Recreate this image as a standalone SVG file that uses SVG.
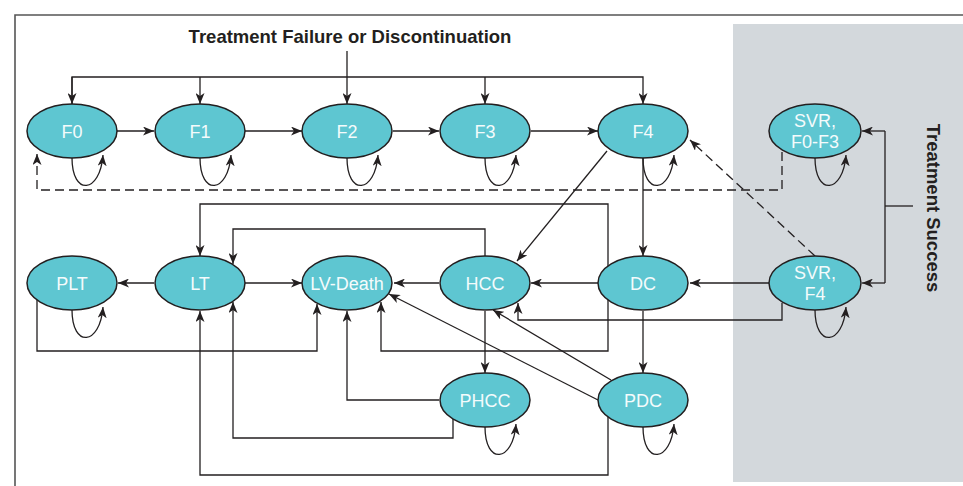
<svg xmlns="http://www.w3.org/2000/svg" width="963" height="486" viewBox="0 0 963 486">
<defs>
<marker id="arr" markerWidth="11" markerHeight="9" refX="11" refY="4.5" orient="auto" markerUnits="userSpaceOnUse">
<path d="M0,0 L11,4.5 L0,9 L3,4.5 z" fill="#231f20"/>
</marker>
<style>
.node ellipse{fill:#5ec6d1;stroke:#231f20;stroke-width:1.5}
.node text{fill:#f4fbfc;font-family:"Liberation Sans",Arial,sans-serif;font-size:18px;text-anchor:middle}
.c path{fill:none;stroke:#231f20;stroke-width:1.3}
.c .a{marker-end:url(#arr)}
.c .d{stroke-dasharray:9,5}
.lbl{font-family:"Liberation Sans",Arial,sans-serif;font-size:18.5px;font-weight:bold;fill:#231f20;text-anchor:middle}
</style>
</defs>
<rect width="963" height="486" fill="#ffffff"/>
<rect x="733" y="24" width="230" height="458" fill="#d3d8dc"/>
<path d="M15,486 V15 H963" fill="none" stroke="#555555" stroke-width="1.6"/>
<text class="lbl" x="350" y="43">Treatment Failure or Discontinuation</text>
<text class="lbl" transform="translate(927,208) rotate(90)" x="0" y="0">Treatment Success</text>

<g class="c" id="connectors">
<path d="M347,51 V104" class="a"/>
<path d="M72,104 V77 H643 V104" class="a"/>
<path d="M72,77 V104" class="a"/>
<path d="M200,77 V104" class="a"/>
<path d="M485,77 V104" class="a"/>
<path d="M117,131 H154" class="a"/>
<path d="M245,131 H302" class="a"/>
<path d="M393,131 H439" class="a"/>
<path d="M531,131 H598" class="a"/>
<path d="M782,152 V190 H37 V154" class="a d"/>
<path d="M815,256 L690,140" class="a d"/>
<path d="M607,151 L517,261" class="a"/>
<path d="M643,158 V256" class="a"/>
<path d="M885,131 V283"/>
<path d="M885,206 H913"/>
<path d="M885,131 H862" class="a"/>
<path d="M885,283 H862" class="a"/>
<path d="M769,283 H690" class="a"/>
<path d="M782,303 V320 H518 V303" class="a"/>
<path d="M598,283 H531" class="a"/>
<path d="M439,283 H394" class="a"/>
<path d="M245,283 H302" class="a"/>
<path d="M154,283 H118" class="a"/>
<path d="M485,256 V229 H233 V264" class="a"/>
<path d="M608,266 V204 H200 V256" class="a"/>
<path d="M608,300 V351 H381 V302" class="a"/>
<path d="M608,417 V475 H200 V311" class="a"/>
<path d="M453,419 V438 H233 V302" class="a"/>
<path d="M439,400 H347 V311" class="a"/>
<path d="M37,300 V351 H317 V304" class="a"/>
<path d="M485,311 V373" class="a"/>
<path d="M643,311 V373" class="a"/>
<path d="M611,380 L493,310" class="a"/>
<path d="M598,400 L389,294" class="a"/>
<path d="M72,158 c0,38 28,36 31,-3" class="a"/>
<path d="M200,158 c0,38 28,36 31,-3" class="a"/>
<path d="M347,158 c0,38 28,36 31,-3" class="a"/>
<path d="M485,158 c0,38 28,36 31,-3" class="a"/>
<path d="M643,158 c0,38 28,36 31,-3" class="a"/>
<path d="M815,158 c0,38 28,36 31,-3" class="a"/>
<path d="M815,310 c0,38 28,36 31,-3" class="a"/>
<path d="M72,310 c0,38 28,36 31,-3" class="a"/>
<path d="M485,427 c0,38 28,36 31,-3" class="a"/>
<path d="M643,427 c0,38 28,36 31,-3" class="a"/>
</g>

<g class="node" id="F0"><ellipse cx="72" cy="131" rx="45" ry="27"/><text x="72" y="137.5">F0</text></g>
<g class="node" id="F1"><ellipse cx="200" cy="131" rx="45" ry="27"/><text x="200" y="137.5">F1</text></g>
<g class="node" id="F2"><ellipse cx="347" cy="131" rx="45" ry="27"/><text x="347" y="137.5">F2</text></g>
<g class="node" id="F3"><ellipse cx="485" cy="131" rx="45" ry="27"/><text x="485" y="137.5">F3</text></g>
<g class="node" id="F4"><ellipse cx="643" cy="131" rx="45" ry="27"/><text x="643" y="137.5">F4</text></g>
<g class="node" id="SVR-F0-F3"><ellipse cx="815" cy="131" rx="46" ry="27"/><text x="815" y="127">SVR,</text><text x="815" y="148">F0-F3</text></g>
<g class="node" id="PLT"><ellipse cx="72" cy="283" rx="45" ry="27"/><text x="72" y="289.5">PLT</text></g>
<g class="node" id="LT"><ellipse cx="200" cy="283" rx="45" ry="27"/><text x="200" y="289.5">LT</text></g>
<g class="node" id="LV-Death"><ellipse cx="347" cy="283" rx="45" ry="27"/><text x="347" y="289.5">LV-Death</text></g>
<g class="node" id="HCC"><ellipse cx="485" cy="283" rx="45" ry="27"/><text x="485" y="289.5">HCC</text></g>
<g class="node" id="DC"><ellipse cx="643" cy="283" rx="45" ry="27"/><text x="643" y="289.5">DC</text></g>
<g class="node" id="SVR-F4"><ellipse cx="815" cy="283" rx="46" ry="27"/><text x="815" y="279">SVR,</text><text x="815" y="300">F4</text></g>
<g class="node" id="PHCC"><ellipse cx="485" cy="400" rx="45" ry="27"/><text x="485" y="406.5">PHCC</text></g>
<g class="node" id="PDC"><ellipse cx="643" cy="400" rx="45" ry="27"/><text x="643" y="406.5">PDC</text></g>
</svg>
